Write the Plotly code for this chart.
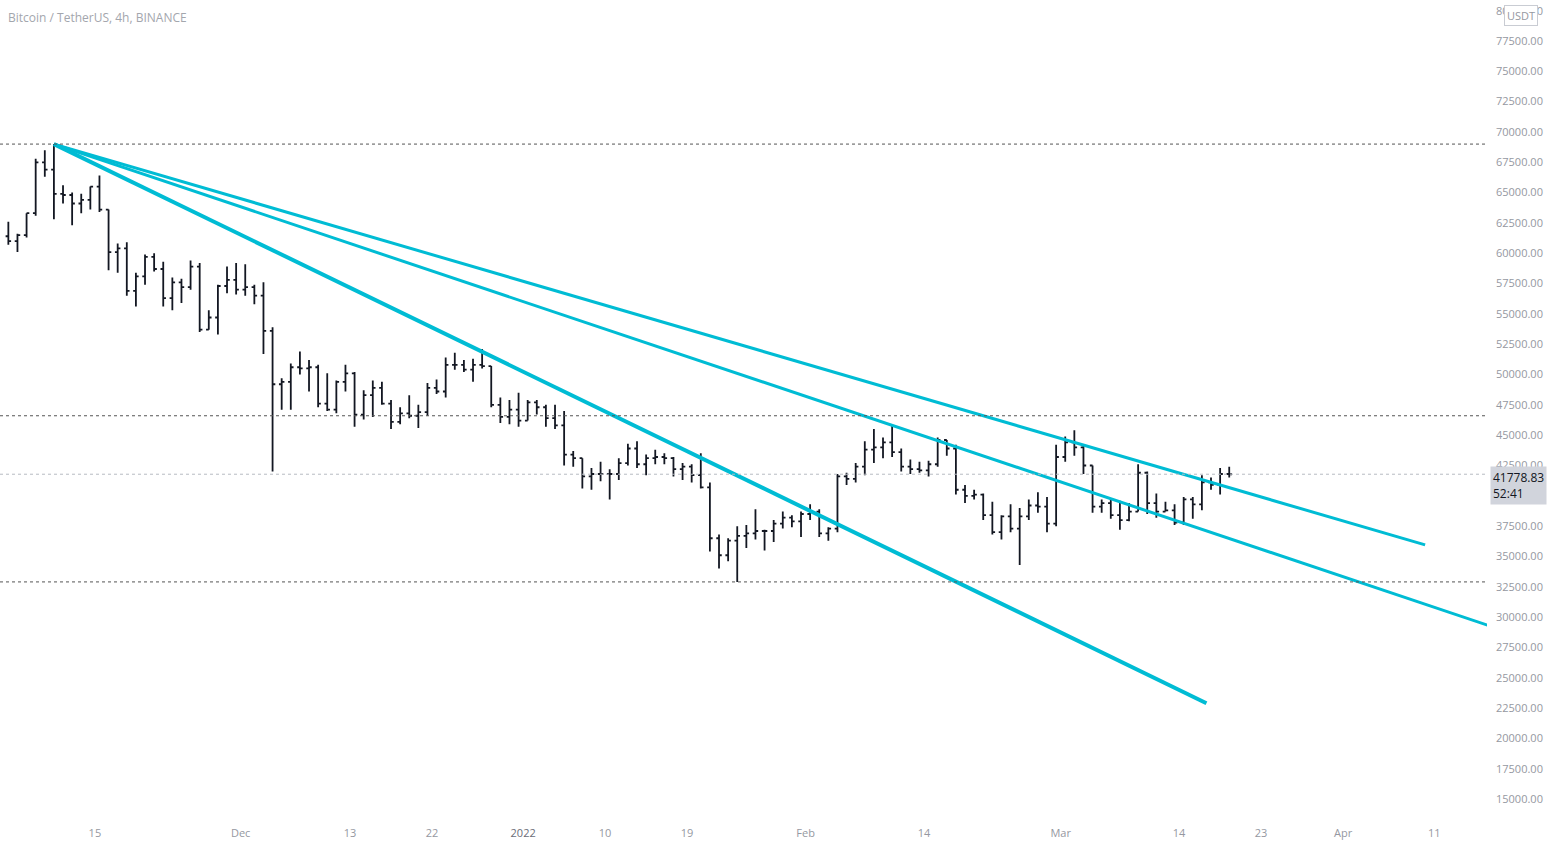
import pandas as pd
import plotly.graph_objects as go

# ---------------- data (daily OHLC) ----------------
start_date = "2021-11-05"
first_open = 61400

highs = [
    # Nov 5-30
    62600, 61600, 63300, 67800, 68500, 69000, 65600, 65000, 64900, 65500,
    66400, 63600, 60800, 60900, 58400, 59900, 60000, 59300, 58000, 57900,
    59400, 59200, 55300, 57400, 58900, 59200,
    # Dec
    59100, 57400, 57600, 53900, 49700, 50900, 51900, 51200, 50800, 50100,
    49500, 50800, 50200, 48700, 49500, 49400, 47900, 47300, 48300, 47500,
    49300, 49600, 51400, 51800, 51200, 51300, 52100, 50700, 48100, 47900, 48500,
    # Jan
    47900, 47900, 47500, 47500, 47000, 43700, 43100, 42300, 42800, 42200,
    43100, 44300, 44500, 43400, 43800, 43500, 43200, 42700, 42600, 43500,
    41100, 36800, 36500, 37500, 37600, 38900, 37200, 38000, 38700, 38400, 38700,
    # Feb
    39300, 38900, 37400, 41800, 41900, 42700, 44500, 45500, 44800, 45900,
    43900, 43000, 42800, 42900, 44800, 44600, 44200, 40900, 40500, 40200,
    39500, 38400, 39300, 39000, 39700, 40300, 39900, 44200,
    # Mar 1-19
    44900, 45400, 44100, 42500, 39700, 39700, 39600, 39400, 42600, 42000,
    40200, 39500, 39300, 39900, 39900, 41700, 41500, 42300, 42400,
]
lows = [
    60700, 60100, 61300, 63100, 66300, 62800, 64100, 62300, 63300, 63600,
    63400, 58600, 58400, 56500, 55600, 57400, 58500, 55600, 55300, 55900,
    57000, 53500, 53700, 53300, 56700, 56600,
    56500, 55800, 51700, 42000, 47100, 47100, 50000, 48600, 47300, 47000,
    46800, 48600, 45700, 46300, 46500, 47500, 45500, 45900, 46400, 45600,
    46600, 48400, 48100, 50400, 50200, 49400, 50500, 47300, 46000, 45900, 45700,
    46200, 46700, 45700, 45500, 42500, 42400, 40600, 40500, 41200, 39700,
    41300, 42500, 42300, 41700, 42600, 42600, 41600, 41300, 41100, 40600,
    35400, 34000, 34600, 32900, 35700, 36400, 35500, 36200, 37300, 37400, 36600,
    38000, 36600, 36300, 37000, 40900, 41100, 41700, 42700, 43100, 43200,
    42000, 41800, 41900, 41600, 42400, 43300, 40100, 39400, 39700, 38000,
    36800, 36400, 37000, 34300, 38000, 38600, 37000, 37500,
    42800, 43300, 41800, 38600, 38600, 38100, 37200, 37900, 38700, 38500,
    38200, 38700, 37600, 37600, 38100, 38800, 40500, 40100, 41500,
]
closes = [
    61000, 61500, 63300, 67500, 66900, 64900, 64800, 64100, 64400, 65500,
    63600, 60100, 60400, 56900, 58100, 59700, 58700, 56300, 57600, 57200,
    58900, 53700, 54700, 57300, 57800, 57000,
    57200, 56500, 53600, 49200, 49400, 50600, 50500, 50600, 47600, 47100,
    49400, 50100, 46700, 48300, 48900, 47600, 46100, 46800, 46600, 46900,
    48900, 48600, 50800, 50800, 50400, 50800, 50700, 47500, 46500, 47100, 46200,
    47700, 47300, 46400, 45800, 43400, 43100, 41600, 41800, 41800, 41800,
    42700, 43900, 42600, 43100, 43200, 43100, 42200, 42400, 41700, 40700,
    36500, 35100, 36300, 36700, 36900, 37100, 37100, 37700, 38200, 37900, 38500,
    38700, 36900, 37300, 41600, 41400, 42400, 43800, 44000, 44400, 43600,
    42400, 42200, 42100, 42600, 44600, 43900, 40500, 40000, 40100, 38400,
    37000, 38300, 37300, 38300, 39200, 39100, 37700, 43200,
    44400, 44000, 42500, 39100, 39400, 38400, 38000, 38700, 41900, 39400,
    38700, 38800, 37800, 39700, 39300, 41100, 40900, 41800, 41779,
]
opens = [first_open] + closes[:-1]

last_price = 41778.83
countdown = "52:41"

# trend lines drawn from the all-time high
line_start = ("2021-11-10 12:00", 69000)
trend_ends = [("2022-04-10 00:00", 35950), ("2022-04-20 00:00", 28540), ("2022-03-17 00:00", 22900)]
trend_widths = [3, 3, 4]

# horizontal dotted levels
levels = [69000, 46600, 32900]

tick_dates = ["2021-11-15", "2021-12-01", "2021-12-13", "2021-12-22", "2022-01-01",
              "2022-01-10", "2022-01-19", "2022-02-01", "2022-02-14", "2022-03-01",
              "2022-03-14", "2022-03-23", "2022-04-01", "2022-04-11"]
tick_labels = ["15", "Dec", "13", "22", "<span style='color:#6a6d78'>2022</span>", "10", "19",
               "Feb", "14", "Mar", "14", "23", "Apr", "11"]

# ---------------- figure ----------------
dates = pd.date_range(start_date, periods=len(closes), freq="D") + pd.Timedelta(hours=12)

CYAN = "#00BCD4"
GREY = "#9598a1"
FONT = "Open Sans"

fig = go.Figure()
fig.add_trace(go.Ohlc(
    x=dates, open=opens, high=highs, low=lows, close=closes,
    increasing=dict(line=dict(color="#131722", width=1.8)),
    decreasing=dict(line=dict(color="#131722", width=1.8)),
    tickwidth=0.3, hoverinfo="skip", showlegend=False,
))

for lv in levels:
    fig.add_hline(y=lv, line=dict(color="#555555", width=1, dash="dot"))
fig.add_hline(y=last_price, line=dict(color="#b8bbc2", width=1, dash="dot"))

for (ex, ey), w in zip(trend_ends, trend_widths):
    fig.add_trace(go.Scatter(
        x=[line_start[0], ex], y=[line_start[1], ey], mode="lines",
        line=dict(color=CYAN, width=w), hoverinfo="skip", showlegend=False,
    ))

fig.update_layout(
    width=1557, height=848,
    margin=dict(l=0, r=70, t=0, b=28),
    paper_bgcolor="white", plot_bgcolor="white",
    font=dict(family=FONT, size=11, color=GREY),
    showlegend=False,
    xaxis=dict(
        range=["2021-11-04 14:00", "2022-04-16 19:00"],
        rangeslider=dict(visible=False),
        showgrid=False, zeroline=False, showline=False,
        tickmode="array", tickvals=tick_dates, ticktext=tick_labels,
        ticks="", ticklabelstandoff=5,
        tickfont=dict(family=FONT, size=11, color=GREY),
    ),
    yaxis=dict(
        side="right", range=[13270, 80880],
        showgrid=False, zeroline=False, showline=False,
        tick0=0, dtick=2500, tickformat=".2f", ticks="",
        ticklabelstandoff=8,
        tickfont=dict(family=FONT, size=11, color=GREY),
    ),
    annotations=[
        dict(text="Bitcoin / TetherUS, 4h, BINANCE", xref="paper", yref="paper",
             x=0, y=1, xanchor="left", yanchor="top", xshift=6, yshift=-7,
             showarrow=False, font=dict(family=FONT, size=12, color="#a3a6ad")),
        dict(text="USDT", xref="paper", yref="paper", x=1, y=1,
             xanchor="left", yanchor="top", xshift=17, yshift=-5,
             showarrow=False, bgcolor="white", bordercolor="#c9ccd3", borderwidth=1,
             borderpad=2, font=dict(family=FONT, size=11, color=GREY)),
        dict(text=f"{last_price:.2f}<br>{countdown}", xref="paper", yref="y",
             x=1, y=last_price, xanchor="left", yanchor="top", xshift=3, yshift=8,
             align="left", showarrow=False, bgcolor="#d1d4dc", borderpad=2,
             font=dict(family=FONT, size=12, color="#131722")),
    ],
)

fig.write_html("out.html", config={"displayModeBar": False},
               post_script="document.body.style.margin='0';document.body.style.overflow='hidden';")
